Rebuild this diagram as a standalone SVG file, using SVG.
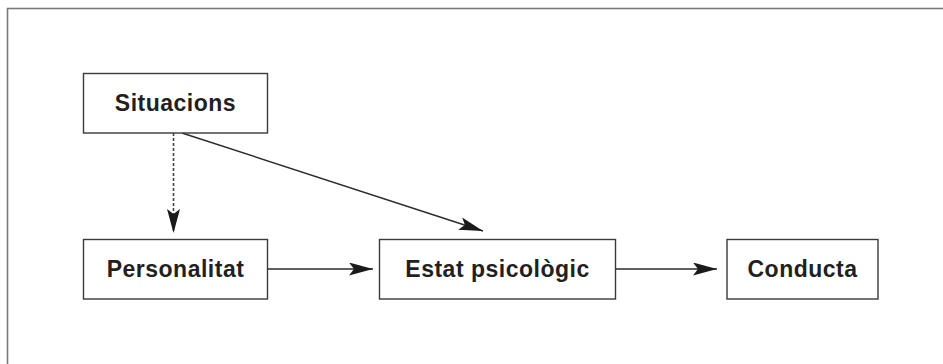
<svg xmlns="http://www.w3.org/2000/svg" width="943" height="364" viewBox="0 0 943 364">
<defs>
<style>
.box{fill:#fff;stroke:#3a3a3a;stroke-width:1.4}
.lbl{font-family:"Liberation Sans",Arial,sans-serif;font-weight:bold;font-size:23px;letter-spacing:0.5px;fill:#231f20;text-anchor:middle}
.con{stroke:#2a2a2a;stroke-width:1.4;fill:none}
.dash{stroke:#444;stroke-width:1.6;stroke-dasharray:3 2;fill:none}
</style>
<marker id="ah" viewBox="0 0 24 13" refX="24" refY="6.5" markerWidth="24" markerHeight="13" markerUnits="userSpaceOnUse" orient="auto">
<path d="M0,0 L24,6.5 L0,13 L5,6.5 Z" fill="#1a1a1a"/>
</marker>
</defs>
<rect width="943" height="364" fill="#fff"/>
<rect x="7.5" y="8.5" width="1000" height="1000" fill="none" stroke="#7a7a7a" stroke-width="1.6"/>
<g id="connectors">
<line class="dash" x1="173.5" y1="133" x2="173.5" y2="233" marker-end="url(#ah)"/>
<line class="con" x1="182" y1="133" x2="483" y2="231" marker-end="url(#ah)"/>
<line class="con" x1="267" y1="269" x2="373" y2="269" marker-end="url(#ah)"/>
<line class="con" x1="615" y1="269" x2="717" y2="269" marker-end="url(#ah)"/>
</g>
<g id="situacions">
<rect class="box" x="83.5" y="73.5" width="184" height="59.5"/>
<text class="lbl" x="175.5" y="111">Situacions</text>
</g>
<g id="personalitat">
<rect class="box" x="83.5" y="239.5" width="184" height="59.5"/>
<text class="lbl" x="175.5" y="277">Personalitat</text>
</g>
<g id="estat">
<rect class="box" x="379.5" y="239.5" width="236" height="59.5"/>
<text class="lbl" x="497.5" y="277">Estat psicològic</text>
</g>
<g id="conducta">
<rect class="box" x="727" y="239.5" width="151" height="59.5"/>
<text class="lbl" x="802.5" y="277">Conducta</text>
</g>
</svg>
